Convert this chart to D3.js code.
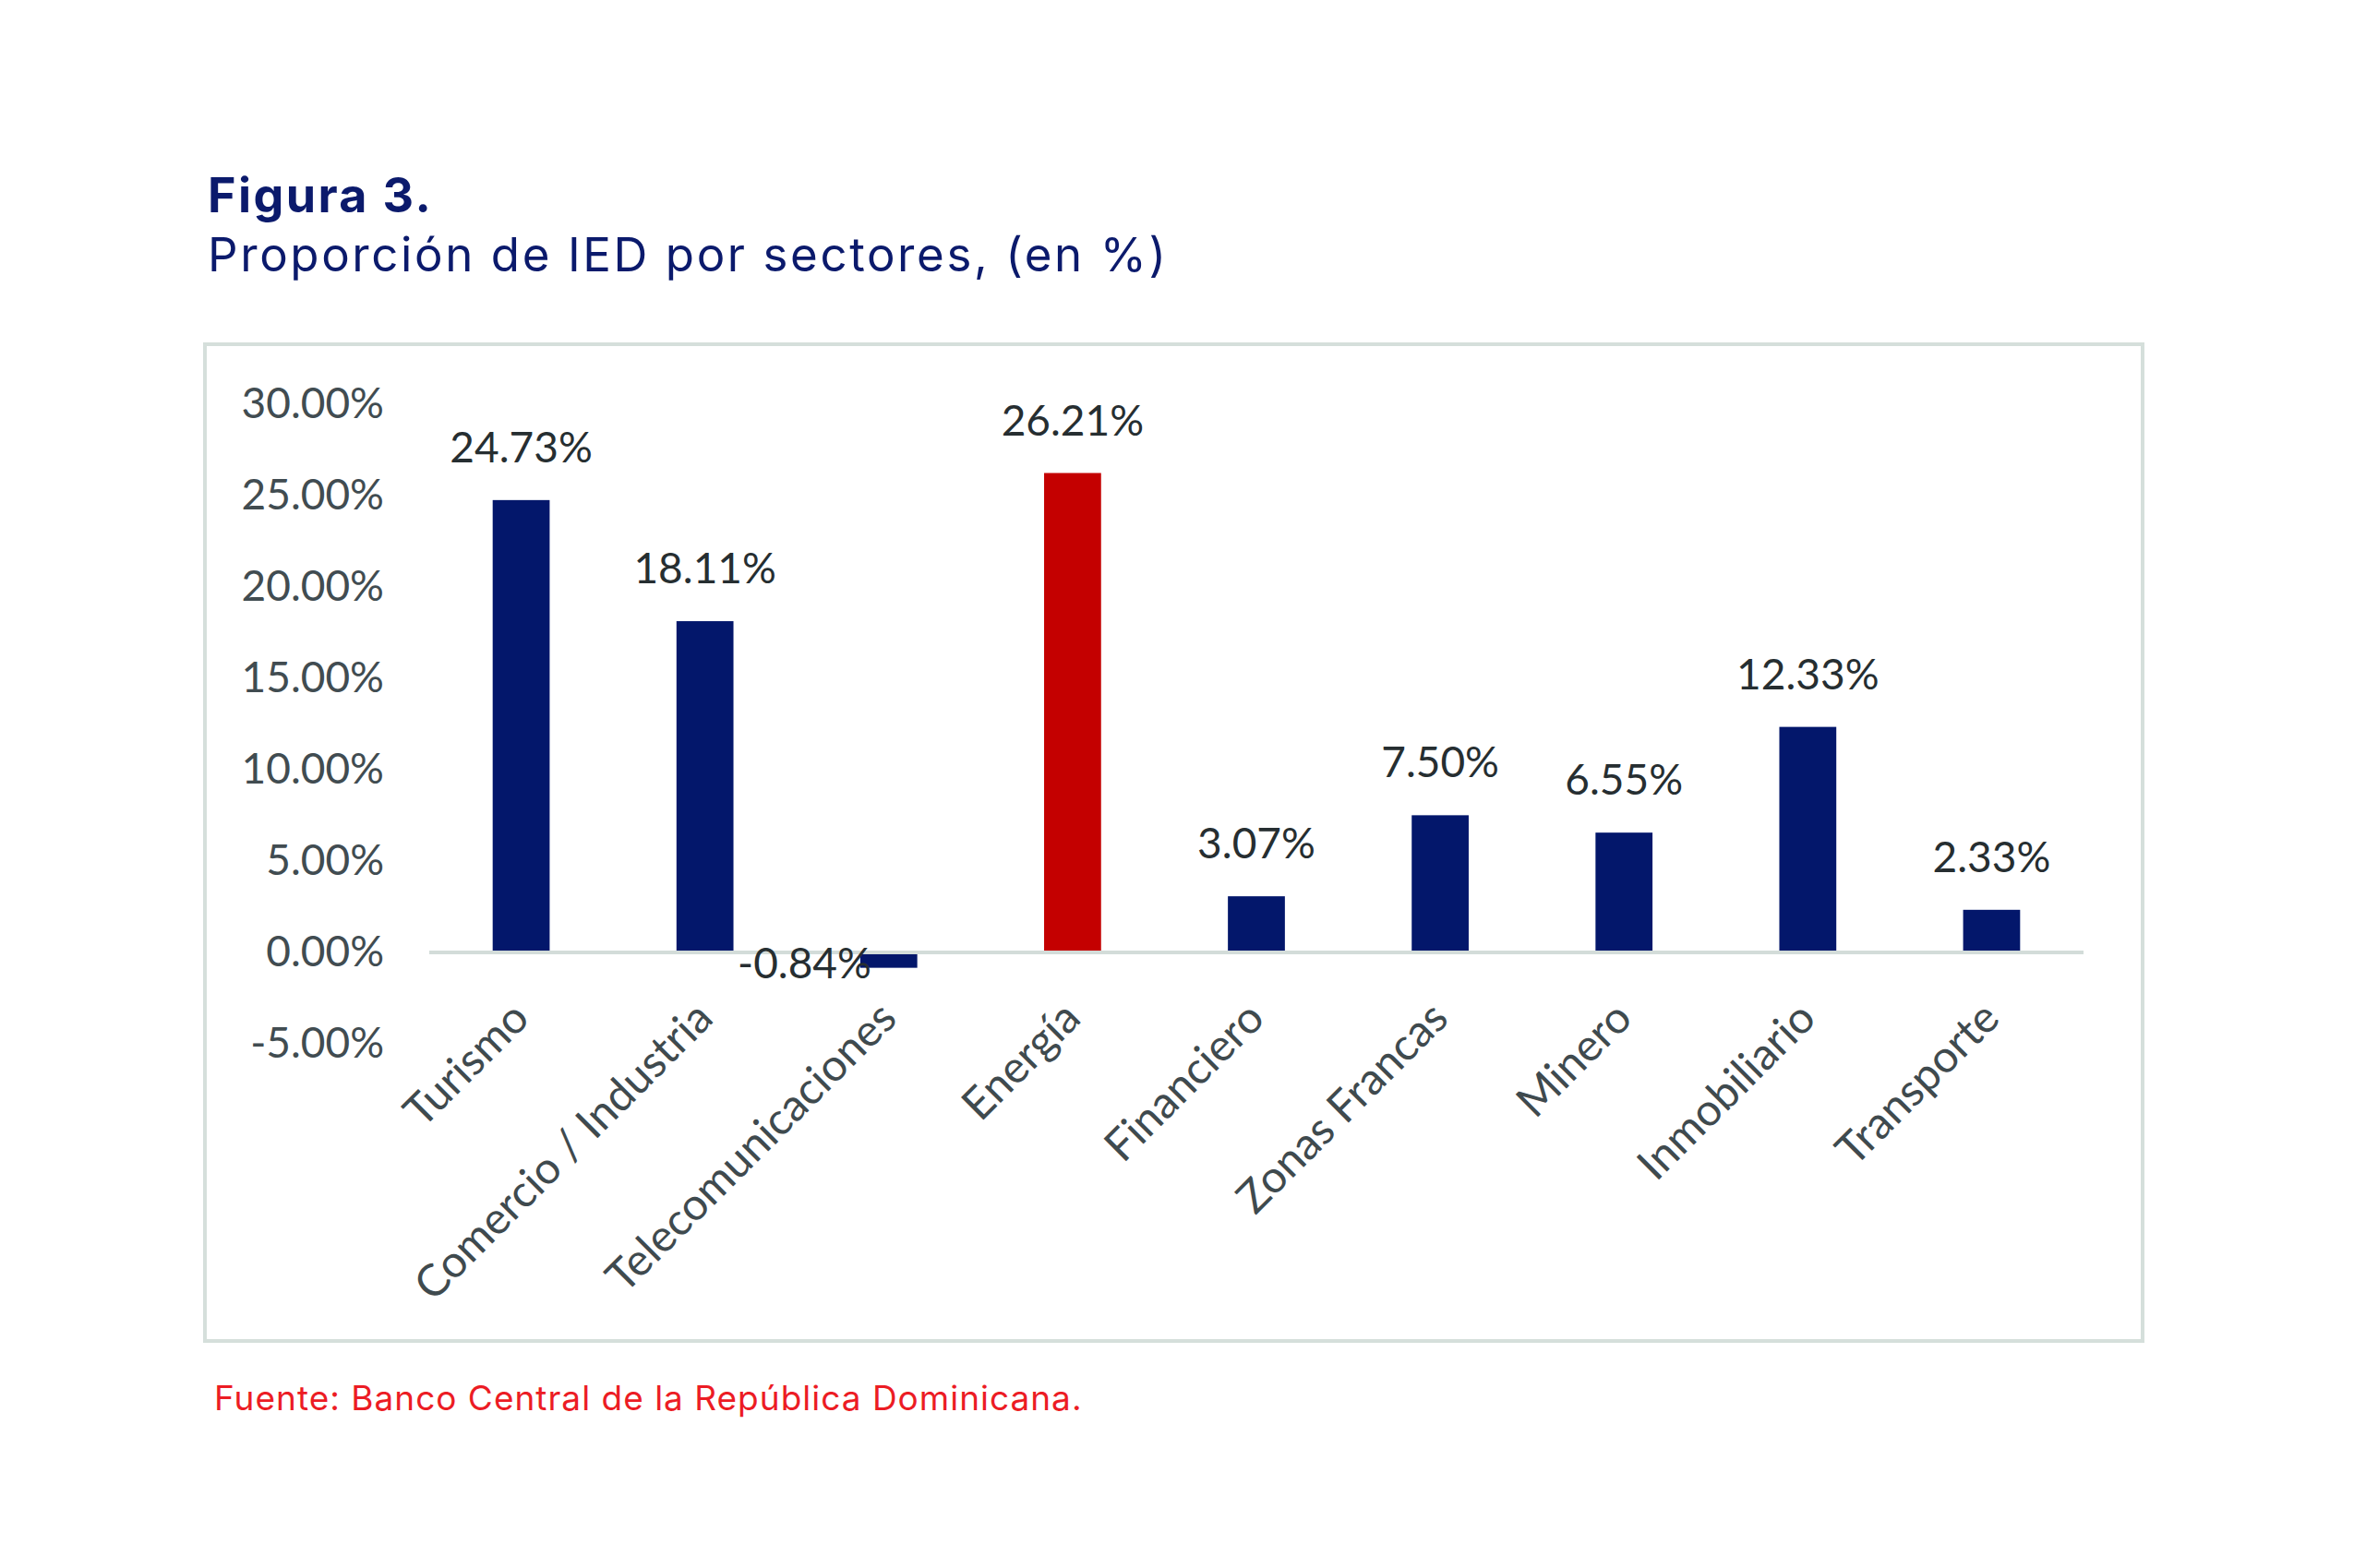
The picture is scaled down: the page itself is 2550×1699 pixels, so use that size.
<!DOCTYPE html>
<html>
<head>
<meta charset="utf-8">
<script src="https://cdn.jsdelivr.net/npm/d3@7"></script>
<style>
  body { margin: 0; background: #fff; }
  svg { display: block; }
</style>
</head>
<body>
<div id="chart"></div>
<script>
// data
var sectors = ["Turismo", "Comercio / Industria", "Telecomunicaciones", "Energía",
    "Financiero", "Zonas Francas", "Minero", "Inmobiliario", "Transporte"];
var shares = [24.73, 18.11, -0.84, 26.21, 3.07, 7.50, 6.55, 12.33, 2.33];
var highlight = ["Energía"];
var yTicks = [-5, 0, 5, 10, 15, 20, 25, 30];

var titleText = "Figura 3.";
var subtitleText = "Proporción de IED por sectores, (en %)";
var sourceText = "Fuente: Banco Central de la República Dominicana.";

var W = 2550, H = 1699;
var navy = "#03176b", red = "#c40000";
var labelFont = "Lato, 'Open Sans', sans-serif";
var headFont = "Inter, 'Noto Sans', sans-serif";

// excel style: plain hyphen for negatives
var pct = function(d) { return d3.format(".2f")(d).replace("\u2212", "-") + "%"; };

var svg = d3.select("#chart").append("svg")
    .attr("width", W)
    .attr("height", H);

svg.append("rect").attr("width", W).attr("height", H).attr("fill", "#fff");

// heading
svg.append("text")
    .attr("x", 225).attr("y", 230)
    .attr("font-family", headFont)
    .attr("font-weight", 700)
    .attr("font-size", 52)
    .attr("letter-spacing", 2.4)
    .attr("fill", "#0b1a6c")
    .text(titleText);

svg.append("text")
    .attr("x", 225).attr("y", 294)
    .attr("font-family", headFont)
    .attr("font-weight", 400)
    .attr("font-size", 51)
    .attr("letter-spacing", 2.6)
    .attr("fill", "#0b1a6c")
    .text(subtitleText);

// chart frame
svg.append("rect")
    .attr("x", 222).attr("y", 373)
    .attr("width", 2099).attr("height", 1080)
    .attr("fill", "none")
    .attr("stroke", "#d5dfdb")
    .attr("stroke-width", 4);

var x = d3.scaleBand()
    .domain(sectors)
    .range([465, 2257])
    .padding(0);

var y = d3.scaleLinear()
    .domain([-5, 30])
    .range([1131.1, 437.4]);

var barW = x.bandwidth() * 0.31;

// y axis labels only
var yAxis = d3.axisLeft(y)
    .tickValues(yTicks)
    .tickSize(0)
    .tickPadding(49)
    .tickFormat(pct);

var gy = svg.append("g")
    .attr("transform", "translate(465,0)")
    .call(yAxis);
gy.select(".domain").remove();
gy.selectAll("text")
    .attr("font-family", labelFont)
    .attr("font-size", 46)
    .attr("fill", "#414c51");

// bars
var data = sectors.map(function(s, i) { return { sector: s, value: shares[i] }; });

svg.selectAll(".bar")
    .data(data)
    .enter().append("rect")
    .attr("class", "bar")
    .attr("x", function(d) { return x(d.sector) + (x.bandwidth() - barW) / 2; })
    .attr("width", barW)
    .attr("y", function(d) { return d.value >= 0 ? y(d.value) : y(0) + 2; })
    .attr("height", function(d) { return d.value >= 0 ? y(0) - 2 - y(d.value) : y(d.value) - y(0) - 2; })
    .attr("fill", function(d) { return highlight.includes(d.sector) ? red : navy; });

// zero line
svg.append("line")
    .attr("x1", x.range()[0]).attr("x2", x.range()[1])
    .attr("y1", y(0)).attr("y2", y(0))
    .attr("stroke", "#d3dcd9")
    .attr("stroke-width", 4);

// value labels
svg.selectAll(".val")
    .data(data)
    .enter().append("text")
    .attr("class", "val")
    .attr("x", function(d) {
        var cx = x(d.sector) + x.bandwidth() / 2;
        return d.value >= 0 ? cx : cx - barW / 2 + 12;
    })
    .attr("y", function(d) { return d.value >= 0 ? y(d.value) - 41 : y(0) + 28; })
    .attr("text-anchor", function(d) { return d.value >= 0 ? "middle" : "end"; })
    .attr("font-family", labelFont)
    .attr("font-size", 46)
    .attr("fill", "#262e31")
    .text(function(d) { return pct(d.value); });

// category labels
var xAxis = d3.axisBottom(x).tickSize(0);
var gx = svg.append("g")
    .attr("transform", "translate(0," + y(0) + ")")
    .call(xAxis);
gx.select(".domain").remove();
gx.selectAll("text")
    .attr("x", 0).attr("y", 0).attr("dy", 0)
    .attr("transform", "translate(11,74) rotate(-45)")
    .attr("text-anchor", "end")
    .attr("font-family", labelFont)
    .attr("font-size", 48)
    .attr("fill", "#3f4a4e");

// source
svg.append("text")
    .attr("x", 232).attr("y", 1528)
    .attr("font-family", headFont)
    .attr("font-size", 37)
    .attr("letter-spacing", 1.0)
    .attr("fill", "#ec1c24")
    .text(sourceText);
</script>
</body>
</html>
